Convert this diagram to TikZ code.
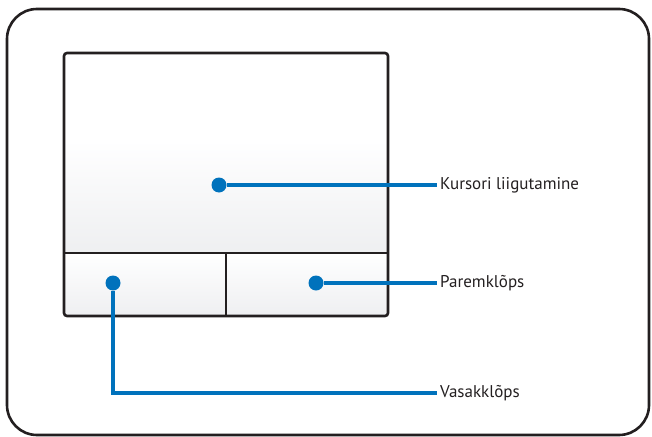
\documentclass[tikz,border=0pt]{standalone}
\usepackage{fontspec}
\setmainfont{PT Sans}
\usepackage{tikz}
\usetikzlibrary{positioning}
\definecolor{pointblue}{RGB}{0,114,188}
\definecolor{padline}{RGB}{35,31,32}
\definecolor{padgray}{RGB}{238,239,241}

\begin{document}
\begin{tikzpicture}[x=1pt,y=-1pt,
  frame/.style={draw=padline,line width=2.6pt},
  dot/.style={circle,fill=pointblue,inner sep=0pt,minimum size=15pt},
  callout/.style={draw=pointblue,line width=3.2pt},
  label text/.style={anchor=west,inner sep=3pt,text=padline,font=\fontsize{17}{19}\selectfont}]

  \useasboundingbox (0,0) rectangle (652,436);

  % Outer casing
  \draw[frame,rounded corners=30pt] (7,9) rectangle (649,435);

  % Touchpad surface and buttons
  \shade[top color=white,bottom color=white] (64,53) rectangle (388,140);
  \shade[top color=white,bottom color=padgray] (64,140) rectangle (388,253);
  \shade[top color=white,bottom color=padgray] (64,253) rectangle (388,316);
  \draw[frame,rounded corners=3pt] (64,53) rectangle (388,316);
  \draw[frame] (64,253) -- (388,253);
  \draw[frame] (226,253) -- (226,316);

  % Points
  \node[dot] (move) at (219,185) {};
  \node[dot] (right) at (316,283) {};
  \node[dot] (left) at (113,283) {};

  % Labels
  \node[label text] (moveL) at (437,185) {Kursori liigutamine};
  \node[label text] (rightL) at (437,283) {Paremklõps};
  \node[label text] (leftL) at (437,393) {Vasakklõps};

  % Callout lines
  \draw[callout] (move) -- (moveL.west);
  \draw[callout] (right) -- (rightL.west);
  \draw[callout] (left) |- (leftL.west);

\end{tikzpicture}
\end{document}
